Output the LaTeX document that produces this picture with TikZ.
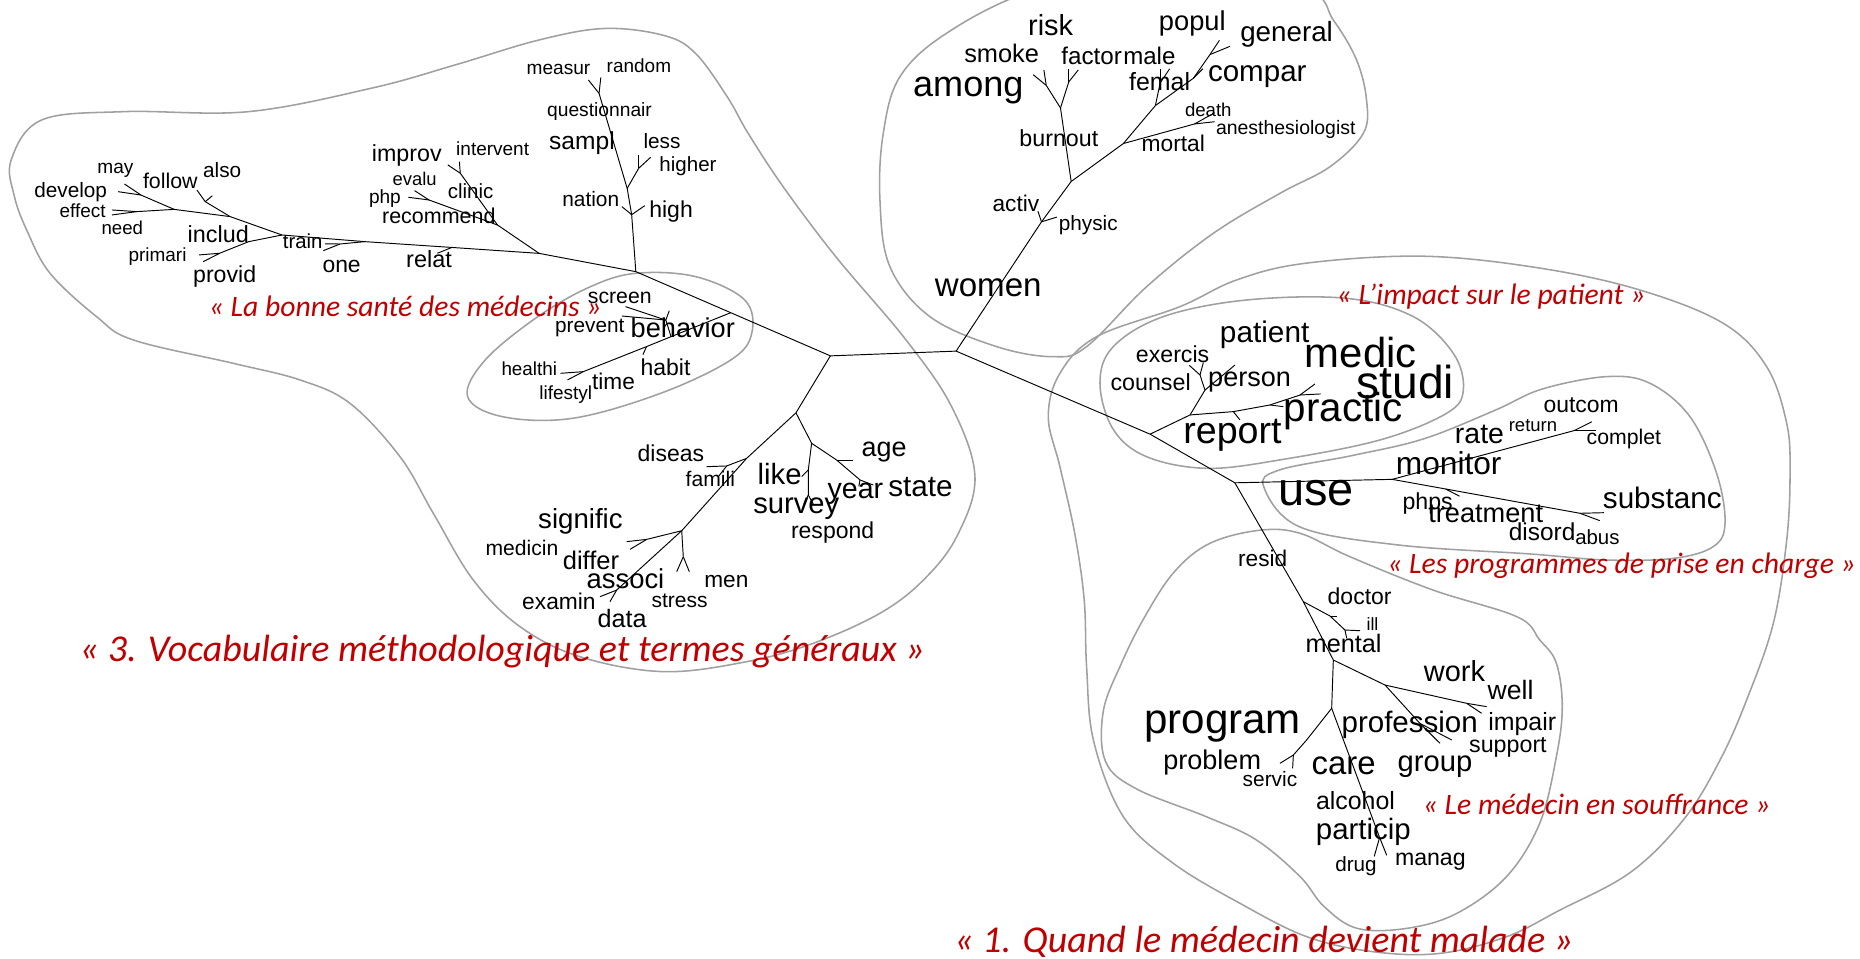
\documentclass[tikz,border=0pt]{standalone}
\usepackage{fontspec}
\setmainfont{Liberation Sans}
\newfontfamily\labfont{Carlito}
\definecolor{hullgray}{RGB}{160,160,160}
\definecolor{labred}{RGB}{192,0,0}
\tikzset{
  wd/.style={font=\fontsize{#1}{#1}\selectfont, anchor=base, inner sep=0pt},
  lab/.style={font=\labfont\itshape\fontsize{#1}{#1}\selectfont, text=labred, anchor=base, inner sep=0pt},
  edgeln/.style={line width=0.8pt, black},
  hullln/.style={line width=1.3pt, hullgray}
}
\begin{document}
\begin{tikzpicture}[x=1pt,y=-1pt]
\fill[white] (0,0) rectangle (1568,808);
\useasboundingbox (0,0) rectangle (1568,808);
\begin{scope}
\clip (0,0) rectangle (1568,808);
% ---------- hulls ----------
\draw[hullln] plot[smooth cycle, tension=0.6] coordinates {
 (9.4,134.9) (35,101.2) (104.9,94.1) (209.7,94.1) (314.6,74) (384.5,54.5) (454.4,33.7) (510,24) (560,30) (586.3,45) (613,81.5) (630.7,112.4) (660.2,157.4) (704.6,216.4) (763.8,286.6) (802.2,342.8) (821.9,401.8) (806.5,452.4) (778.4,489) (741.8,517) (685.6,542.3) (629.4,557.8) (559.2,566.2) (488.9,553.6) (438.4,528.3) (399,489) (365.3,432.8) (337.2,385) (295,340) (252.9,320.3) (196.7,306.3) (112.4,286.6) (81.5,267) (42.2,230.4) (22.5,193.9) (12,165)};
\draw[hullln] plot[smooth cycle, tension=0.6] coordinates {
 (870,-8) (798,28) (758.7,64.6) (744.6,112.4) (741.8,168.6) (750.2,224.8) (784,267) (840.2,292.2) (888,300.7) (916,292.2) (966.6,241.7) (1022.8,196.7) (1079,163) (1121.2,140.5) (1149.3,112.4) (1152,84.3) (1143.6,50.6) (1124,16.9) (1100,-10) (990,-40)};
\draw[hullln] plot[smooth cycle, tension=0.6] coordinates {
 (394.2,334.4) (423.8,351.3) (482.9,352.6) (556.8,331.6) (616,303.5) (633.7,281) (627.8,252.9) (586.4,233.2) (536.1,230.4) (497.7,241.7) (453.3,267) (409,303.5)};
\draw[hullln] plot[smooth cycle, tension=0.6] coordinates {
 (927.3,323.1) (938.5,292.2) (980.7,266.9) (1050.9,252.9) (1135.2,251.5) (1191.4,266.9) (1225.1,297.8) (1233.6,328.7) (1219.5,348.4) (1163.3,370.9) (1079,387.7) (1017.2,394.8) (966.6,385) (938.5,362)};
\draw[hullln] plot[smooth cycle, tension=0.6] coordinates {
 (1065.3,410.2) (1078.6,396.2) (1140,384) (1200,370) (1260,346) (1300,328) (1354.4,317.5) (1390.9,323.1) (1424.6,351.2) (1447.1,399) (1454.2,441.1) (1444.3,460.8) (1410.6,470.7) (1354.4,472.1) (1290,467) (1178.6,459.4) (1095.3,444)};
\draw[hullln] plot[smooth cycle, tension=0.6] coordinates {
 (1062,447) (1020,458) (990,482) (965,520) (945,560) (930,600) (932,642) (958,665) (1017,688.5) (1059,708) (1096,739) (1116,764) (1144,782.6) (1186,782.6) (1228,770) (1270,739) (1298,694) (1312,638) (1317,596) (1312,559) (1298,539.5) (1279,520) (1208,497.4) (1138,469.3) (1096,449.6)};
\draw[hullln] plot[smooth cycle, tension=0.6] coordinates {
 (1042.5,236) (1100,222) (1200,216) (1298,226) (1382.5,244.5) (1452.8,272.6) (1489.3,309.1) (1506.2,356.9) (1509,399) (1506.2,455.2) (1494.9,525.5) (1472.4,590.1) (1450,640.7) (1420,690) (1375,735) (1315,767.2) (1270.1,789.6) (1213.9,803.7) (1157.7,802.3) (1101.5,789.6) (1045.3,761.5) (989.1,727.8) (947,688.5) (922,625) (916,562) (914,505.8) (906,449.6) (893.5,393.4) (883.7,351.3) (893.5,314.7) (924.5,283.8) (994.7,258.5)};
\end{scope}
% ---------- tree coordinates ----------
\coordinate (A) at (700,300); \coordinate (B) at (806,296);
\coordinate (L) at (536,229); \coordinate (D) at (671,348);
\coordinate (R) at (969.5,366); \coordinate (U) at (1041,407);
% women branch
\coordinate (w1) at (878,187); \coordinate (w1a) at (875,178); \coordinate (w1b) at (891,183);
\coordinate (C2) at (903,153);
\coordinate (Cb) at (894,91); \coordinate (Cb1) at (882,72); \coordinate (Cb1a) at (871,63); \coordinate (Cb1b) at (880,59);
\coordinate (Cb2) at (901,69); \coordinate (Cb2a) at (901,58); \coordinate (Cb2b) at (909,59);
\coordinate (Cm) at (947,121); \coordinate (Cd) at (1007,104.5); \coordinate (Cda) at (1024,102.6); \coordinate (Cdb) at (1024,95);
\coordinate (Cf) at (974,89); \coordinate (Cf1) at (978,70); \coordinate (Cf1a) at (978,58); \coordinate (Cf1b) at (986,58);
\coordinate (Cc) at (1006,66); \coordinate (Cca) at (1014,58);
\coordinate (Cg) at (1020,46); \coordinate (Cga) at (1028,34); \coordinate (Cgb) at (1037,39);
% upper-left branch
\coordinate (Hn) at (532.5,181); \coordinate (Hna) at (524.3,174.2); \coordinate (Hnb) at (543.5,173.4);
\coordinate (Hl) at (528.7,158.8); \coordinate (Hl2) at (538.4,141.9); \coordinate (Hl2a) at (538.4,130.7); \coordinate (Hl2b) at (548.5,132.6);
\coordinate (Hm) at (505,78.7); \coordinate (Hma) at (496,67.4); \coordinate (Hmb) at (506.5,65.2);
% left branch
\coordinate (J1) at (454.5,213.6); \coordinate (Jr) at (419.4,189.7);
\coordinate (Ji) at (388,146); \coordinate (Jia) at (377.5,139); \coordinate (Jib) at (387.3,136.3);
\coordinate (Jp) at (361.7,168.6); \coordinate (Jpa) at (344.3,166.3); \coordinate (Jpb) at (349.5,160.7);
\coordinate (Jt) at (381,208.6); \coordinate (Jta) at (368.7,213.5);
\coordinate (K0) at (307.6,203.7); \coordinate (Ko) at (286.6,205.7); \coordinate (Koa) at (272.6,211.3); \coordinate (Kob) at (274,205.5);
\coordinate (K1) at (237.7,198.1); \coordinate (K2) at (209.7,203.7); \coordinate (K3) at (185.2,213.5);
\coordinate (K3a) at (167.8,214.9); \coordinate (K3b) at (171.3,220.6);
\coordinate (Ka) at (194,182.6); \coordinate (Kb) at (173,170); \coordinate (Kba) at (166,160.2); \coordinate (Kbb) at (179,165);
\coordinate (Ke) at (146.8,176.5); \coordinate (Kd) at (118.8,164.4); \coordinate (Kda) at (99.6,161.6); \coordinate (Kdb) at (104.9,155.1);
\coordinate (Kf) at (115.3,178.4); \coordinate (Kfa) at (94.4,177); \coordinate (Kfb) at (94.4,181.2);
% behavior branch
\coordinate (Bj) at (616,263.6); \coordinate (Bb) at (565.7,283.8);
\coordinate (Bs) at (561.3,269.8); \coordinate (Bsa) at (527.3,258.5); \coordinate (Bsb) at (524.3,266.4); \coordinate (Bsc) at (564.2,261.9);
\coordinate (Bh) at (545,292.2); \coordinate (Bha) at (542,299);
\coordinate (Bl) at (491.7,313.3); \coordinate (Bla) at (472.5,314.7); \coordinate (Blb) at (478.4,320.3);
% lower-left branch
\coordinate (E) at (684.2,373.7); \coordinate (El) at (681.4,396.2); \coordinate (Ela) at (675.8,401.8);
\coordinate (Es) at (681.4,417.3); \coordinate (Esa) at (677.8,424.9); \coordinate (Esb) at (685.6,424.9);
\coordinate (Ea) at (705.3,387.8); \coordinate (Eaa) at (719.3,387.8);
\coordinate (Ey) at (725,404.6); \coordinate (Eya) at (724,410); \coordinate (Eyb) at (736.2,408.9);
\coordinate (Df) at (629.4,386.4); \coordinate (Df2) at (612.6,392.8); \coordinate (Dfa) at (595.7,393.4); \coordinate (Dfb) at (605.5,401.9);
\coordinate (Dm) at (574.7,447.4); \coordinate (Dms) at (576,469.3); \coordinate (Dmsa) at (570.5,481.9); \coordinate (Dmsb) at (581.1,481.9);
\coordinate (Dsg) at (545.2,454.7); \coordinate (Dsga) at (528.3,456.6); \coordinate (Dsgb) at (531.1,463.1);
\coordinate (Dx) at (519.9,497.4); \coordinate (Dxa) at (505.8,503); \coordinate (Dxb) at (514.2,507.2);
% report branch
\coordinate (R2) at (1003.2,349.8); \coordinate (R3) at (1015.8,328.8);
\coordinate (R4) at (1011.6,316.1); \coordinate (R4a) at (1002.6,308); \coordinate (R4b) at (1014.4,305.7);
\coordinate (R5) at (1041.1,307.7);
\coordinate (Rp1) at (1039.7,347); \coordinate (Rp1a) at (1045.3,354);
\coordinate (Rp2) at (1070.6,341.4); \coordinate (Rp2a) at (1081.8,342.8);
\coordinate (Rp3) at (1095.9,333); \coordinate (Rp3a) at (1108.5,323.7); \coordinate (Rp3b) at (1113.3,332.1);
% use branch
\coordinate (M) at (1173.6,404.1); \coordinate (Mo) at (1327,363); \coordinate (Moa) at (1342,355.5); \coordinate (Mob) at (1345.3,363);
\coordinate (Mp) at (1218.6,412.2); \coordinate (Mpa) at (1230.4,418.3);
\coordinate (Ms) at (1331.9,432.7); \coordinate (Msa) at (1352,432.2); \coordinate (Msb) at (1348.6,438.9);
% lower-right branch
\coordinate (Doc) at (1098.7,507.2); \coordinate (Doc1) at (1121.2,519.3); \coordinate (Doc1a) at (1127.3,519.3);
\coordinate (Doc2) at (1133.8,531.1); \coordinate (Doc2a) at (1146.5,531.7); \coordinate (Doc2b) at (1135.3,538.1);
\coordinate (G) at (1124,556.4);
\coordinate (W) at (1167.6,577.5); \coordinate (Wi) at (1236.4,592.9); \coordinate (Wia) at (1253.3,595.7); \coordinate (Wib) at (1249,601.3);
\coordinate (Wg) at (1197,609.8); \coordinate (Wga) at (1213.9,626.6); \coordinate (Wgb) at (1223.8,623.8);
\coordinate (H) at (1122.6,597.1); \coordinate (Hp) at (1101.5,623.8); \coordinate (Hp2) at (1090.3,636.5);
\coordinate (Hp2a) at (1079,643.5); \coordinate (Hp2b) at (1089.7,647.7);
\coordinate (Hd) at (1163,706); \coordinate (Hda) at (1169,721); \coordinate (Hdb) at (1158.5,722);
% ---------- tree edges ----------
\draw[edgeln] (L) -- (Bj) -- (A) -- (B);
\draw[edgeln] (A) -- (D);
\draw[edgeln] (B) -- (w1) -- (C2); \draw[edgeln] (w1) -- (w1a); \draw[edgeln] (w1) -- (w1b);
\draw[edgeln] (C2) -- (Cb); \draw[edgeln] (Cb) -- (Cb1); \draw[edgeln] (Cb1) -- (Cb1a); \draw[edgeln] (Cb1) -- (Cb1b);
\draw[edgeln] (Cb) -- (Cb2); \draw[edgeln] (Cb2) -- (Cb2a); \draw[edgeln] (Cb2) -- (Cb2b);
\draw[edgeln] (C2) -- (Cm); \draw[edgeln] (Cm) -- (Cd) -- (Cda); \draw[edgeln] (Cd) -- (Cdb);
\draw[edgeln] (Cm) -- (Cf); \draw[edgeln] (Cf) -- (Cf1); \draw[edgeln] (Cf1) -- (Cf1a); \draw[edgeln] (Cf1) -- (Cf1b);
\draw[edgeln] (Cf) -- (Cc) -- (Cg); \draw[edgeln] (Cc) -- (Cca); \draw[edgeln] (Cg) -- (Cga); \draw[edgeln] (Cg) -- (Cgb);
\draw[edgeln] (L) -- (Hn) -- (Hl) -- (Hm); \draw[edgeln] (Hn) -- (Hna); \draw[edgeln] (Hn) -- (Hnb);
\draw[edgeln] (Hl) -- (Hl2); \draw[edgeln] (Hl2) -- (Hl2a); \draw[edgeln] (Hl2) -- (Hl2b);
\draw[edgeln] (Hm) -- (Hma); \draw[edgeln] (Hm) -- (Hmb);
\draw[edgeln] (L) -- (J1); \draw[edgeln] (J1) -- (Jr) -- (Ji); \draw[edgeln] (Ji) -- (Jia); \draw[edgeln] (Ji) -- (Jib);
\draw[edgeln] (Jr) -- (Jp); \draw[edgeln] (Jp) -- (Jpa); \draw[edgeln] (Jp) -- (Jpb);
\draw[edgeln] (J1) -- (Jt) -- (K0) -- (K1); \draw[edgeln] (Jt) -- (Jta);
\draw[edgeln] (K0) -- (Ko); \draw[edgeln] (Ko) -- (Koa); \draw[edgeln] (Ko) -- (Kob);
\draw[edgeln] (K1) -- (K2) -- (K3); \draw[edgeln] (K3) -- (K3a); \draw[edgeln] (K3) -- (K3b);
\draw[edgeln] (K1) -- (Ka) -- (Ke); \draw[edgeln] (Ka) -- (Kb) -- (Kba); \draw[edgeln] (Kb) -- (Kbb);
\draw[edgeln] (Ke) -- (Kd); \draw[edgeln] (Kd) -- (Kda); \draw[edgeln] (Kd) -- (Kdb);
\draw[edgeln] (Ke) -- (Kf); \draw[edgeln] (Kf) -- (Kfa); \draw[edgeln] (Kf) -- (Kfb);
\draw[edgeln] (Bj) -- (Bb); \draw[edgeln] (Bb) -- (Bs); \draw[edgeln] (Bs) -- (Bsa); \draw[edgeln] (Bs) -- (Bsb); \draw[edgeln] (Bs) -- (Bsc);
\draw[edgeln] (Bb) -- (Bh) -- (Bl); \draw[edgeln] (Bh) -- (Bha); \draw[edgeln] (Bl) -- (Bla); \draw[edgeln] (Bl) -- (Blb);
\draw[edgeln] (D) -- (E); \draw[edgeln] (E) -- (El) -- (Es); \draw[edgeln] (El) -- (Ela); \draw[edgeln] (Es) -- (Esa); \draw[edgeln] (Es) -- (Esb);
\draw[edgeln] (E) -- (Ea) -- (Ey); \draw[edgeln] (Ea) -- (Eaa); \draw[edgeln] (Ey) -- (Eya); \draw[edgeln] (Ey) -- (Eyb);
\draw[edgeln] (D) -- (Df) -- (Dm) -- (Dx); \draw[edgeln] (Df) -- (Df2); \draw[edgeln] (Df2) -- (Dfa); \draw[edgeln] (Df2) -- (Dfb);
\draw[edgeln] (Dm) -- (Dms); \draw[edgeln] (Dms) -- (Dmsa); \draw[edgeln] (Dms) -- (Dmsb);
\draw[edgeln] (Dm) -- (Dsg); \draw[edgeln] (Dsg) -- (Dsga); \draw[edgeln] (Dsg) -- (Dsgb);
\draw[edgeln] (Dx) -- (Dxa); \draw[edgeln] (Dx) -- (Dxb);
\draw[edgeln] (B) -- (R) -- (U);
\draw[edgeln] (R) -- (R2) -- (R3) -- (R4); \draw[edgeln] (R4) -- (R4a); \draw[edgeln] (R4) -- (R4b); \draw[edgeln] (R3) -- (R5);
\draw[edgeln] (R2) -- (Rp1) -- (Rp2) -- (Rp3); \draw[edgeln] (Rp1) -- (Rp1a); \draw[edgeln] (Rp2) -- (Rp2a);
\draw[edgeln] (Rp3) -- (Rp3a); \draw[edgeln] (Rp3) -- (Rp3b);
\draw[edgeln] (U) -- (M); \draw[edgeln] (M) -- (Mo); \draw[edgeln] (Mo) -- (Moa); \draw[edgeln] (Mo) -- (Mob);
\draw[edgeln] (M) -- (Mp) -- (Ms); \draw[edgeln] (Mp) -- (Mpa); \draw[edgeln] (Ms) -- (Msa); \draw[edgeln] (Ms) -- (Msb);
\draw[edgeln] (U) -- (Doc) -- (G) -- (H);
\draw[edgeln] (Doc) -- (Doc1) -- (Doc2); \draw[edgeln] (Doc1) -- (Doc1a); \draw[edgeln] (Doc2) -- (Doc2a); \draw[edgeln] (Doc2) -- (Doc2b);
\draw[edgeln] (G) -- (W) -- (Wi); \draw[edgeln] (Wi) -- (Wia); \draw[edgeln] (Wi) -- (Wib);
\draw[edgeln] (W) -- (Wg); \draw[edgeln] (Wg) -- (Wga); \draw[edgeln] (Wg) -- (Wgb);
\draw[edgeln] (H) -- (Hp) -- (Hp2); \draw[edgeln] (Hp2) -- (Hp2a); \draw[edgeln] (Hp2) -- (Hp2b);
\draw[edgeln] (H) -- (Hd) -- (Hda); \draw[edgeln] (Hd) -- (Hdb);
% ---------- words ----------
\node[wd=16.1] (measur) at (470.8,62.7) {measur};
\node[wd=16] (random) at (538.6,61) {random};
\node[wd=16.2] (questionnair) at (505.4,97.8) {questionnair};
\node[wd=20.7] (sampl) at (490.6,125.9) {sampl};
\node[wd=17.5] (less) at (558.1,125.3) {less};
\node[wd=17.3] (higher) at (580,144.2) {higher};
\node[wd=17.6] (nation) at (498,173.7) {nation};
\node[wd=19.4] (high) at (565.7,183.5) {high};
\node[wd=19.6] (improv) at (342.9,136.3) {improv};
\node[wd=16] (intervent) at (415.3,131.5) {intervent};
\node[wd=15.5] (evalu) at (349.5,156.5) {evalu};
\node[wd=16.1] (php) at (324.5,171.9) {php};
\node[wd=17.3] (clinic) at (396.7,167.7) {clinic};
\node[wd=18.1] (recommend) at (369.9,188.8) {recommend};
\node[wd=16.1] (may) at (97.3,146.1) {may};
\node[wd=17.5] (also) at (187.3,149.5) {also};
\node[wd=18] (follow) at (143.6,159.3) {follow};
\node[wd=17.5] (develop) at (59.6,166.6) {develop};
\node[wd=16] (effect) at (69.6,183.5) {effect};
\node[wd=15.7] (need) at (103.1,197.5) {need};
\node[wd=19.7] (includ) at (184,204.5) {includ};
\node[wd=16] (primari) at (132.8,220.6) {primari};
\node[wd=17.1] (train) at (255.1,209.9) {train};
\node[wd=19.5] (provid) at (189.4,238.3) {provid};
\node[wd=19.3] (one) at (288,229.6) {one};
\node[wd=19.8] (relat) at (361.7,225.3) {relat};
\node[wd=17.9] (screen) at (522.5,255.7) {screen};
\node[wd=17.5] (prevent) at (497.2,279.9) {prevent};
\node[wd=22.9] (behavior) at (575.6,284.7) {behavior};
\node[wd=15.9] (healthi) at (446.2,316.7) {healthi};
\node[wd=19.4] (habit) at (561,316.7) {habit};
\node[wd=19.1] (time) at (517.2,328.2) {time};
\node[wd=16] (lifestyl) at (477,336.6) {lifestyl};
\node[wd=19.4] (diseas) at (565.6,389.1) {diseas};
\node[wd=17.8] (famili) at (598.8,409.7) {famili};
\node[wd=24.7] (like) at (657.2,408.8) {like};
\node[wd=22.7] (age) at (745.3,385) {age};
\node[wd=24.1] (year) at (721.1,420.1) {year};
\node[wd=25] (state) at (775.9,418.7) {state};
\node[wd=24.6] (survey) at (671.3,432.7) {survey};
\node[wd=19.4] (respond) at (701.9,453.8) {respond};
\node[wd=23.3] (signific) at (489.3,445.3) {signific};
\node[wd=17.8] (medicin) at (440,468.7) {medicin};
\node[wd=21.5] (differ) at (498.2,479.9) {differ};
\node[wd=23.1] (associ) at (527.3,495.9) {associ};
\node[wd=19.1] (men) at (612.3,495.1) {men};
\node[wd=19.2] (examin) at (471.2,513.6) {examin};
\node[wd=17.7] (stress) at (572.9,512.2) {stress};
\node[wd=21.2] (data) at (524.4,529.1) {data};
\node[wd=24.4] (risk) at (885.7,30.3) {risk};
\node[wd=23] (popul) at (1005.1,25.9) {popul};
\node[wd=23.4] (general) at (1084.6,35.1) {general};
\node[wd=21.4] (smoke) at (844.4,52.8) {smoke};
\node[wd=20.4] (factor) at (920.2,54.2) {factor};
\node[wd=20.3] (male) at (968.9,54.2) {male};
\node[wd=30.4] (among) at (816.3,81.5) {among};
\node[wd=21] (femal) at (977.6,75.9) {femal};
\node[wd=24.9] (compar) at (1059.9,68.8) {compar};
\node[wd=15.7] (death) at (1018.6,98.4) {death};
\node[wd=16.4] (anesth) at (1083.9,113.8) {anesthesiologist};
\node[wd=19.6] (burnout) at (892.6,123.1) {burnout};
\node[wd=19.2] (mortal) at (989.1,127.9) {mortal};
\node[wd=19.1] (activ) at (856.4,178.4) {activ};
\node[wd=17.5] (physic) at (917.4,193.9) {physic};
\node[wd=27.9] (women) at (833.1,250.1) {women};
\node[wd=25.1] (patient) at (1066.1,288.8) {patient};
\node[wd=35.3] (medic) at (1147.1,309.6) {medic};
\node[wd=19.5] (exercis) at (988.5,305.7) {exercis};
\node[wd=19.6] (counsel) at (970,329.6) {counsel};
\node[wd=22.8] (person) at (1053.4,325.4) {person};
\node[wd=38.9] (studi) at (1184.7,335.8) {studi};
\node[wd=34] (practic) at (1132.4,355.4) {practic};
\node[wd=31.7] (report) at (1039,373.7) {report};
\node[wd=19.3] (outcom) at (1332.9,347.8) {outcom};
\node[wd=24] (rate) at (1247.2,373.7) {rate};
\node[wd=15.6] (return) at (1292.3,363.9) {return};
\node[wd=17.9] (complet) at (1368.9,374.5) {complet};
\node[wd=26.7] (monitor) at (1221.3,400.4) {monitor};
\node[wd=39.6] (use) at (1109.5,426.5) {use};
\node[wd=25] (substanc) at (1401.3,428.5) {substanc};
\node[wd=19.5] (phps) at (1203.5,429.9) {phps};
\node[wd=22.9] (treatment) at (1252.5,440.6) {treatment};
\node[wd=20.6] (disord) at (1300,456) {disord};
\node[wd=17.2] (abus) at (1346.6,459.4) {abus};
\node[wd=19.1] (resid) at (1064.5,477.7) {resid};
\node[wd=19.4] (doctor) at (1146.2,509.5) {doctor};
\node[wd=15] (ill) at (1157,531.1) {ill};
\node[wd=21.3] (mental) at (1132.7,550.2) {mental};
\node[wd=24.4] (work) at (1226.1,574.7) {work};
\node[wd=22.4] (well) at (1273.4,590.1) {well};
\node[wd=35.5] (program) at (1030.7,618.2) {program};
\node[wd=24.9] (profession) at (1188.4,617.6) {profession};
\node[wd=21] (impair) at (1283.2,615.4) {impair};
\node[wd=19.6] (support) at (1271.2,634.5) {support};
\node[wd=22.8] (problem) at (1021.9,648.6) {problem};
\node[wd=27.7] (care) at (1132.7,652.5) {care};
\node[wd=24.6] (group) at (1209.7,650.5) {group};
\node[wd=17.6] (servic) at (1070.6,662.6) {servic};
\node[wd=21] (alcohol) at (1142.7,682.8) {alcohol};
\node[wd=24.8] (particip) at (1149.3,707.6) {particip};
\node[wd=19.5] (manag) at (1205.8,730) {manag};
\node[wd=17.4] (drug) at (1143.1,734.8) {drug};
% ---------- cluster labels ----------
\node[lab=25] (labA) at (341.6,266.9) {« La bonne santé des médecins »};
\node[lab=25] (labB) at (1257,257.1) {« L’impact sur le patient »};
\node[lab=25] (labC) at (1367,483.3) {« Les programmes de prise en charge »};
\node[lab=25] (labD) at (1346,687) {« Le médecin en souffrance »};
\node[lab=32] (labE) at (423.5,558) {« 3. Vocabulaire méthodologique et termes généraux »};
\node[lab=32] (labF) at (1065.5,803) {« 1. Quand le médecin devient malade »};
\end{tikzpicture}
\end{document}
